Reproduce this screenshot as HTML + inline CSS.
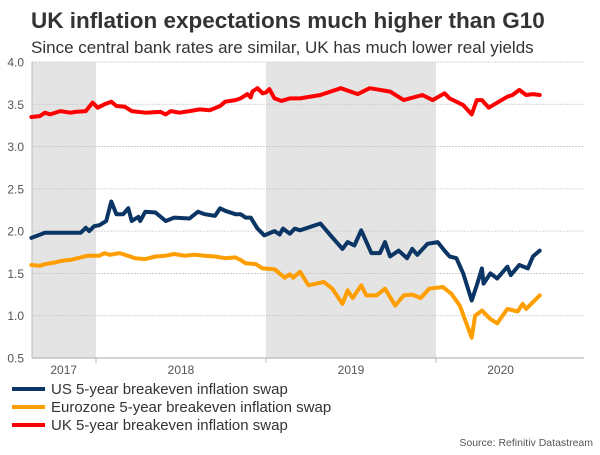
<!DOCTYPE html>
<html><head><meta charset="utf-8"><style>
body{margin:0;background:#fff;}
svg text{font-family:"Liberation Sans",Arial,sans-serif;}
</style></head><body>
<svg id="chart" width="600" height="450" viewBox="0 0 600 450">
<text x="31" y="28" font-size="22.5" font-weight="bold" fill="#333">UK inflation expectations much higher than G10</text>
<text x="31" y="53" font-size="17" fill="#333">Since central bank rates are similar, UK has much lower real yields</text>
<g id="bands"></g>
<g id="grid"></g>
<g id="yaxis"></g>
<g id="xaxis"></g>
<g id="series"></g>
<g>
<g><rect x="12" y="387" width="33" height="4" fill="#0b3564"/><text x="51" y="394" font-size="15" fill="#333">US 5-year breakeven inflation swap</text></g>
<g><rect x="12" y="405" width="33" height="4" fill="#ff9e00"/><text x="51" y="412" font-size="15" fill="#333">Eurozone 5-year breakeven inflation swap</text></g>
<g><rect x="12" y="423" width="33" height="4" fill="#ff0000"/><text x="51" y="430" font-size="15" fill="#333">UK 5-year breakeven inflation swap</text></g>
</g>
<text x="593" y="446" font-size="10.5" fill="#555" text-anchor="end">Source: Refinitiv Datastream</text>
</svg>
<script>
const yTicks=[0.5,1.0,1.5,2.0,2.5,3.0,3.5,4.0];
const yearLabels=["2017","2018","2019","2020"];
const yearMids=[2017.81,2018.5,2019.5,2020.38];
const yearBounds=[2018,2019,2020];
const bandRanges=[[2017.62,2018],[2019,2020]];
const ukDates=[2017.62,2017.67,2017.70,2017.73,2017.79,2017.85,2017.88,2017.94,2017.98,2018.01,2018.05,2018.09,2018.12,2018.17,2018.21,2018.29,2018.38,2018.41,2018.44,2018.49,2018.55,2018.61,2018.67,2018.73,2018.76,2018.82,2018.85,2018.89,2018.91,2018.92,2018.95,2018.98,2019.0,2019.02,2019.05,2019.09,2019.14,2019.2,2019.32,2019.44,2019.54,2019.61,2019.73,2019.81,2019.92,2019.98,2020.05,2020.08,2020.16,2020.21,2020.24,2020.27,2020.31,2020.42,2020.45,2020.49,2020.53,2020.57,2020.61];
const ukValues=[3.35,3.36,3.40,3.38,3.42,3.40,3.41,3.42,3.52,3.46,3.50,3.53,3.48,3.47,3.42,3.40,3.41,3.38,3.42,3.40,3.42,3.44,3.43,3.48,3.53,3.55,3.57,3.62,3.58,3.65,3.69,3.63,3.64,3.68,3.57,3.54,3.57,3.57,3.61,3.69,3.62,3.69,3.65,3.55,3.61,3.55,3.63,3.57,3.49,3.38,3.55,3.55,3.46,3.59,3.61,3.67,3.61,3.62,3.61];
const usDates=[2017.62,2017.70,2017.76,2017.82,2017.91,2017.94,2017.96,2017.99,2018.02,2018.06,2018.09,2018.12,2018.16,2018.19,2018.21,2018.25,2018.26,2018.29,2018.35,2018.41,2018.46,2018.55,2018.60,2018.64,2018.70,2018.73,2018.76,2018.82,2018.85,2018.88,2018.91,2018.95,2018.99,2019.05,2019.08,2019.10,2019.14,2019.17,2019.2,2019.32,2019.38,2019.45,2019.48,2019.52,2019.56,2019.62,2019.67,2019.70,2019.73,2019.78,2019.83,2019.86,2019.89,2019.95,2020.01,2020.05,2020.08,2020.12,2020.16,2020.21,2020.24,2020.27,2020.28,2020.32,2020.36,2020.42,2020.44,2020.49,2020.54,2020.57,2020.61];
const usValues=[1.92,1.98,1.98,1.98,1.98,2.04,2.00,2.06,2.07,2.12,2.35,2.20,2.20,2.27,2.12,2.17,2.12,2.23,2.22,2.12,2.16,2.15,2.23,2.20,2.18,2.27,2.24,2.20,2.20,2.16,2.16,2.03,1.95,2.00,1.96,2.03,1.97,2.03,2.01,2.09,1.95,1.79,1.87,1.83,2.01,1.74,1.74,1.87,1.70,1.77,1.68,1.79,1.72,1.85,1.87,1.77,1.70,1.68,1.50,1.18,1.36,1.56,1.38,1.50,1.44,1.58,1.48,1.60,1.56,1.70,1.77];
const euDates=[2017.62,2017.67,2017.70,2017.76,2017.80,2017.85,2017.91,2017.95,2018.02,2018.05,2018.08,2018.14,2018.17,2018.23,2018.29,2018.35,2018.41,2018.46,2018.52,2018.58,2018.64,2018.70,2018.76,2018.82,2018.85,2018.88,2018.94,2018.98,2019.05,2019.11,2019.14,2019.16,2019.2,2019.25,2019.34,2019.39,2019.45,2019.48,2019.51,2019.56,2019.59,2019.65,2019.70,2019.76,2019.81,2019.86,2019.91,2019.96,2020.04,2020.09,2020.14,2020.21,2020.23,2020.27,2020.32,2020.36,2020.42,2020.48,2020.51,2020.53,2020.57,2020.61];
const euValues=[1.60,1.59,1.61,1.63,1.65,1.66,1.69,1.71,1.71,1.74,1.72,1.74,1.72,1.68,1.67,1.70,1.71,1.73,1.71,1.72,1.71,1.70,1.68,1.69,1.66,1.62,1.61,1.56,1.55,1.45,1.49,1.45,1.52,1.36,1.40,1.32,1.14,1.30,1.21,1.36,1.24,1.24,1.32,1.12,1.24,1.25,1.21,1.32,1.34,1.26,1.12,0.74,1.00,1.06,0.96,0.91,1.08,1.05,1.14,1.08,1.16,1.24];

const NS="http://www.w3.org/2000/svg";
const L=32,R=584,T=62,B=358;
const xs=t=>96+(t-2018)*170;
const ys=v=>B-(v-0.5)/3.5*(B-T);
function mk(tag,attrs,parent){const e=document.createElementNS(NS,tag);for(const k in attrs)e.setAttribute(k,attrs[k]);parent.appendChild(e);return e;}
const bands=document.getElementById('bands');
bandRanges.forEach(r=>{const e=mk('rect',{x:Math.max(L,xs(r[0])),y:T,width:xs(r[1])-Math.max(L,xs(r[0])),height:B-T,fill:'#e4e4e4'},bands);

});
const grid=document.getElementById('grid'),ya=document.getElementById('yaxis');
yTicks.forEach(v=>{if(v>0.5){const g=mk('line',{x1:L,x2:R,y1:ys(v),y2:ys(v),stroke:'#c8c8c8','stroke-width':0.8,'stroke-dasharray':'2,1'},grid);

}
const t=mk('text',{x:24,y:ys(v)+4.5,'font-size':12,fill:'#555','text-anchor':'end'},ya);t.textContent=v.toFixed(1);

});
mk('line',{x1:L,x2:L,y1:T,y2:B,stroke:'#bbb','stroke-width':1},ya);
const xa=document.getElementById('xaxis');
mk('line',{x1:L,x2:R,y1:B,y2:B,stroke:'#bbb','stroke-width':1.2},xa);
yearBounds.forEach(t=>{mk('line',{x1:xs(t),x2:xs(t),y1:B,y2:B+5,stroke:'#bbb'},xa);});
yearLabels.forEach((s,i)=>{const t=mk('text',{x:xs(yearMids[i]),y:374,'font-size':12,fill:'#555','text-anchor':'middle'},xa);t.textContent=s;

});
const ser=document.getElementById('series');
[[euDates,euValues,'#ff9e00','eurozone-line'],[usDates,usValues,'#0b3564','us-line'],[ukDates,ukValues,'#ff0000','uk-line']].forEach(s=>{
const d=s[0].map((t,i)=>(i?'L':'M')+xs(t).toFixed(1)+','+ys(s[1][i]).toFixed(1)).join('');
const p=mk('path',{d:d,fill:'none',stroke:s[2],'stroke-width':4,'stroke-linejoin':'round','stroke-linecap':'round'},ser);

});
</script>
</body></html>
